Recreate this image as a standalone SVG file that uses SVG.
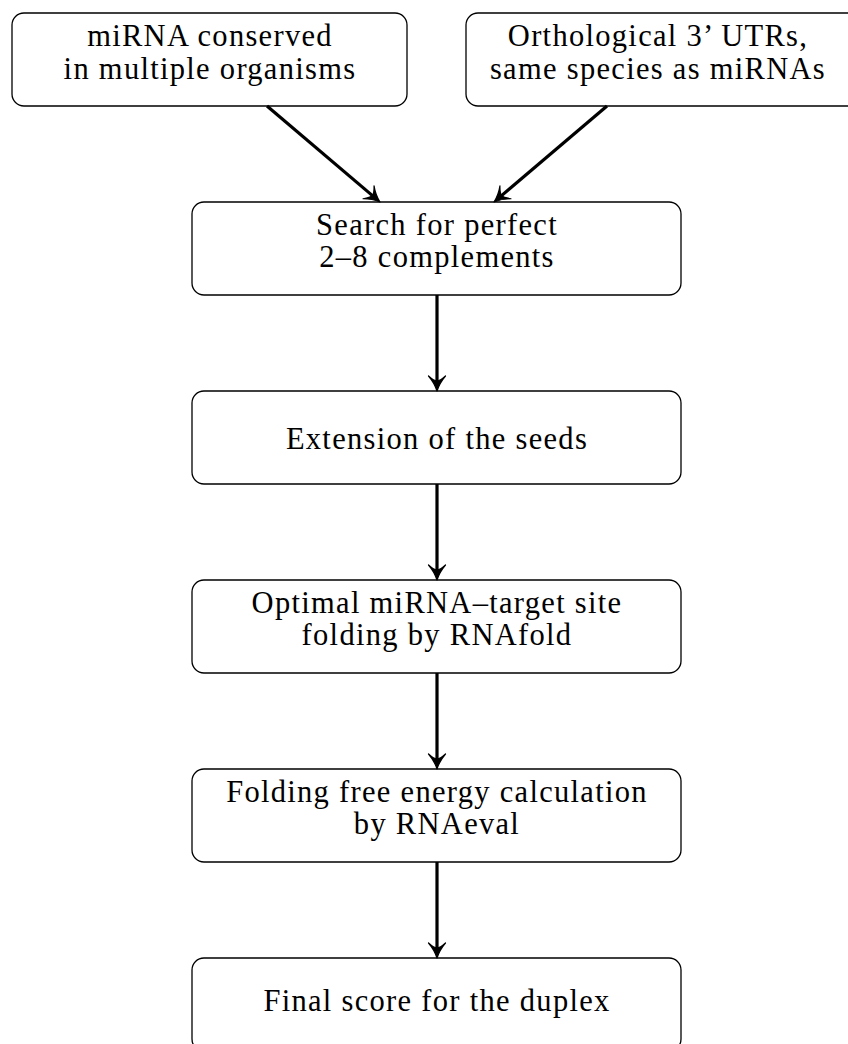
<svg xmlns="http://www.w3.org/2000/svg" width="848" height="1044" viewBox="0 0 848 1044">
  <defs>
    <!-- dart-shaped arrowhead; tip sits 6px beyond the line end -->
    <marker id="head" markerUnits="userSpaceOnUse" markerWidth="30" markerHeight="30" viewBox="-20 -15 30 30" refX="0" refY="0" orient="auto" overflow="visible">
      <path d="M6,0 Q-2,-2.5 -9,-8.5 Q-4,-3 -4,0 Q-4,3 -9,8.5 Q-2,2.5 6,0 Z" fill="#000" stroke="#000" stroke-width="1.2" stroke-linejoin="round"/>
    </marker>
  </defs>
  <style>
    .box { fill: #fff; stroke: #000; stroke-width: 1.3; }
    .lbl { font-family: "Liberation Serif", "Times New Roman", serif; font-size: 30.5px; letter-spacing: 1.3px; fill: #000; text-anchor: middle; }
    .edge { stroke: #000; stroke-width: 3.2; fill: none; marker-end: url(#head); }
  </style>
  <rect width="848" height="1044" fill="#fff"/>

  <g id="n-mirna">
    <rect class="box" x="12" y="13" width="395" height="93" rx="12"/>
    <text class="lbl" x="210" y="46">miRNA conserved</text>
    <text class="lbl" x="210" y="79">in multiple organisms</text>
  </g>

  <g id="n-utrs">
    <rect class="box" x="466" y="13" width="395" height="93" rx="12"/>
    <text class="lbl" x="658" y="46">Orthological 3’ UTRs,</text>
    <text class="lbl" x="658" y="79">same species as miRNAs</text>
  </g>

  <g id="n-search">
    <rect class="box" x="192" y="202" width="489" height="93" rx="12"/>
    <text class="lbl" x="437" y="235">Search for perfect</text>
    <text class="lbl" x="437" y="267">2–8 complements</text>
  </g>

  <g id="n-extension">
    <rect class="box" x="192" y="391" width="489" height="93" rx="12"/>
    <text class="lbl" x="437" y="449">Extension of the seeds</text>
  </g>

  <g id="n-folding">
    <rect class="box" x="192" y="580" width="489" height="93" rx="12"/>
    <text class="lbl" x="437" y="613">Optimal miRNA–target site</text>
    <text class="lbl" x="437" y="645">folding by RNAfold</text>
  </g>

  <g id="n-energy">
    <rect class="box" x="192" y="769" width="489" height="93" rx="12"/>
    <text class="lbl" x="437" y="802">Folding free energy calculation</text>
    <text class="lbl" x="437" y="834">by RNAeval</text>
  </g>

  <g id="n-score">
    <rect class="box" x="192" y="958" width="489" height="93" rx="12"/>
    <text class="lbl" x="437" y="1011">Final score for the duplex</text>
  </g>

  <g id="connectors">
    <line class="edge" x1="267" y1="106" x2="375.4" y2="198.1"/>
    <line class="edge" x1="607" y1="106" x2="498.6" y2="198.1"/>
    <line class="edge" x1="437" y1="295" x2="437" y2="385"/>
    <line class="edge" x1="437" y1="484" x2="437" y2="574"/>
    <line class="edge" x1="437" y1="673" x2="437" y2="763"/>
    <line class="edge" x1="437" y1="862" x2="437" y2="952"/>
  </g>
</svg>
